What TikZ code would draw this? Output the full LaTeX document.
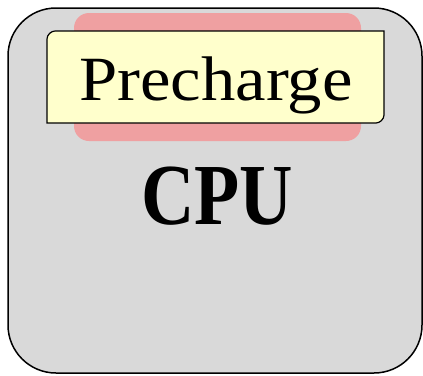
\documentclass[tikz,border=0pt]{standalone}
\usepackage{fontspec}
\newfontfamily\cpufont{Liberation Serif}
\definecolor{cpugrey}{RGB}{217,217,217}
\definecolor{pinkbox}{RGB}{239,160,161}
\definecolor{yellowbox}{RGB}{255,255,204}
\begin{document}
\begin{tikzpicture}[x=1pt,y=-1pt,
  outerbox/.style={draw=black,line width=1.5pt,fill=cpugrey,rounded corners=48pt},
  hilite/.style={fill=pinkbox,rounded corners=15pt},
  labelbox/.style={draw=black,line width=1.2pt,fill=yellowbox}]
\useasboundingbox (0,0) rectangle (423,375);
\draw[outerbox] (8,8) rectangle (422,373);
\fill[hilite] (74,13) rectangle (361,141);
\draw[labelbox] (47,123) -- (47,39) .. controls (47,34.6) and (51.4,31) .. (55,31)
  -- (384,31) -- (384,115) .. controls (384,119.4) and (379.6,123) .. (376,123) -- cycle;
\node[anchor=base,inner sep=0pt] (pre) at (216,100)
  {\scalebox{1.09}[1]{\cpufont\fontsize{63}{70}\selectfont Precharge}};
\node[anchor=base,inner sep=0pt] (cpu) at (217,224)
  {\scalebox{0.85}[1]{\cpufont\bfseries\fontsize{87}{95}\selectfont CPU}};
\end{tikzpicture}
\end{document}
